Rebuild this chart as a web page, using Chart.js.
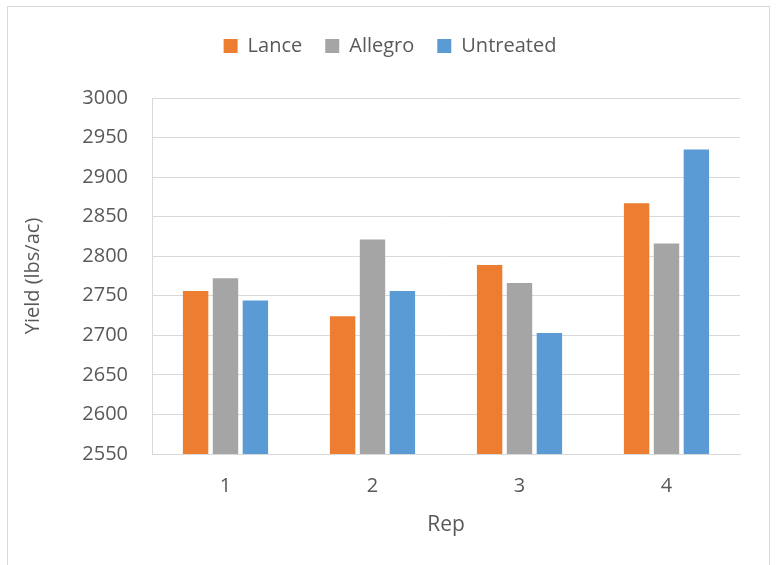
<!DOCTYPE html>
<html>
<head>
<meta charset="utf-8">
<script src="https://cdn.jsdelivr.net/npm/chart.js@4.4.1/dist/chart.umd.min.js"></script>
<style>
  html, body { margin: 0; padding: 0; background: #fff; }
  #wrap { width: 777px; height: 565px; position: relative; }
</style>
</head>
<body>
<div id="wrap"><canvas id="mycanvas"></canvas></div>
<script>
const reps = ["1", "2", "3", "4"];
const lance = [2756, 2724, 2789, 2867];
const allegro = [2772, 2821, 2766, 2816];
const untreated = [2744, 2756, 2703, 2935];
const yTicks = [2550, 3000, 50];

const textColor = "#595959";
const gridColor = "#d9d9d9";
const fontFamily = "'Open Sans', sans-serif";

// white background + thin frame like the Excel chart box
const frame = {
  id: "frame",
  beforeDraw(chart) {
    const ctx = chart.ctx;
    ctx.save();
    ctx.fillStyle = "#fff";
    ctx.fillRect(0, 0, chart.width, chart.height);
    ctx.strokeStyle = gridColor;
    ctx.lineWidth = 1;
    ctx.strokeRect(7.5, 6.5, 762, 600);
    ctx.restore();
  }
};

let chartData = {
  labels: reps,
  datasets: [
    { label: "Lance", data: lance, backgroundColor: "#ED7D31" },
    { label: "Allegro", data: allegro, backgroundColor: "#A5A5A5" },
    { label: "Untreated", data: untreated, backgroundColor: "#5B9BD5" },
  ],
};

let chartOptions = {
  responsive: true,
  maintainAspectRatio: false,
  animation: false,
  categoryPercentage: 0.61,
  barPercentage: 0.85,
  layout: { padding: { left: 3, right: 0, top: 13, bottom: 0 } },
  plugins: {
    legend: {
      position: "top",
      labels: {
        color: textColor,
        font: { family: fontFamily, size: 20 },
        boxWidth: 14,
        boxHeight: 14,
        padding: 23,
      },
    },
    tooltip: { enabled: false },
  },
  scales: {
    x: {
      grid: { display: false, drawTicks: false },
      border: { display: true, color: gridColor },
      ticks: { color: textColor, font: { family: fontFamily, size: 20 }, padding: 20 },
      title: {
        display: true,
        text: "Rep",
        color: textColor,
        font: { family: fontFamily, size: 21 },
        padding: { top: 4, bottom: 27 },
      },
      afterFit(scale) { scale.height = 111; },
    },
    xTop: {
      type: "category",
      position: "top",
      labels: reps,
      grid: { display: false, drawTicks: false },
      border: { display: false },
      ticks: { display: false },
      afterFit(scale) { scale.height = 32; },
    },
    y: {
      min: yTicks[0],
      max: yTicks[1],
      ticks: {
        stepSize: yTicks[2],
        color: textColor,
        font: { family: fontFamily, size: 20 },
        padding: 24,
        callback: (v) => String(v),
      },
      grid: { color: gridColor, drawTicks: false },
      border: { display: true, color: gridColor },
      title: {
        display: true,
        text: "Yield (lbs/ac)",
        color: textColor,
        font: { family: fontFamily, size: 20 },
        padding: { top: 18, bottom: 0 },
      },
      afterFit(scale) { scale.width = 149; },
    },
    yRight: {
      position: "right",
      min: yTicks[0],
      max: yTicks[1],
      grid: { display: false, drawTicks: false },
      border: { display: false },
      ticks: { display: false },
      afterFit(scale) { scale.width = 37; },
    },
  },
};

new Chart(document.getElementById("mycanvas"), {
  type: "bar",
  data: chartData,
  options: chartOptions,
  plugins: [frame],
});
</script>
</body>
</html>
